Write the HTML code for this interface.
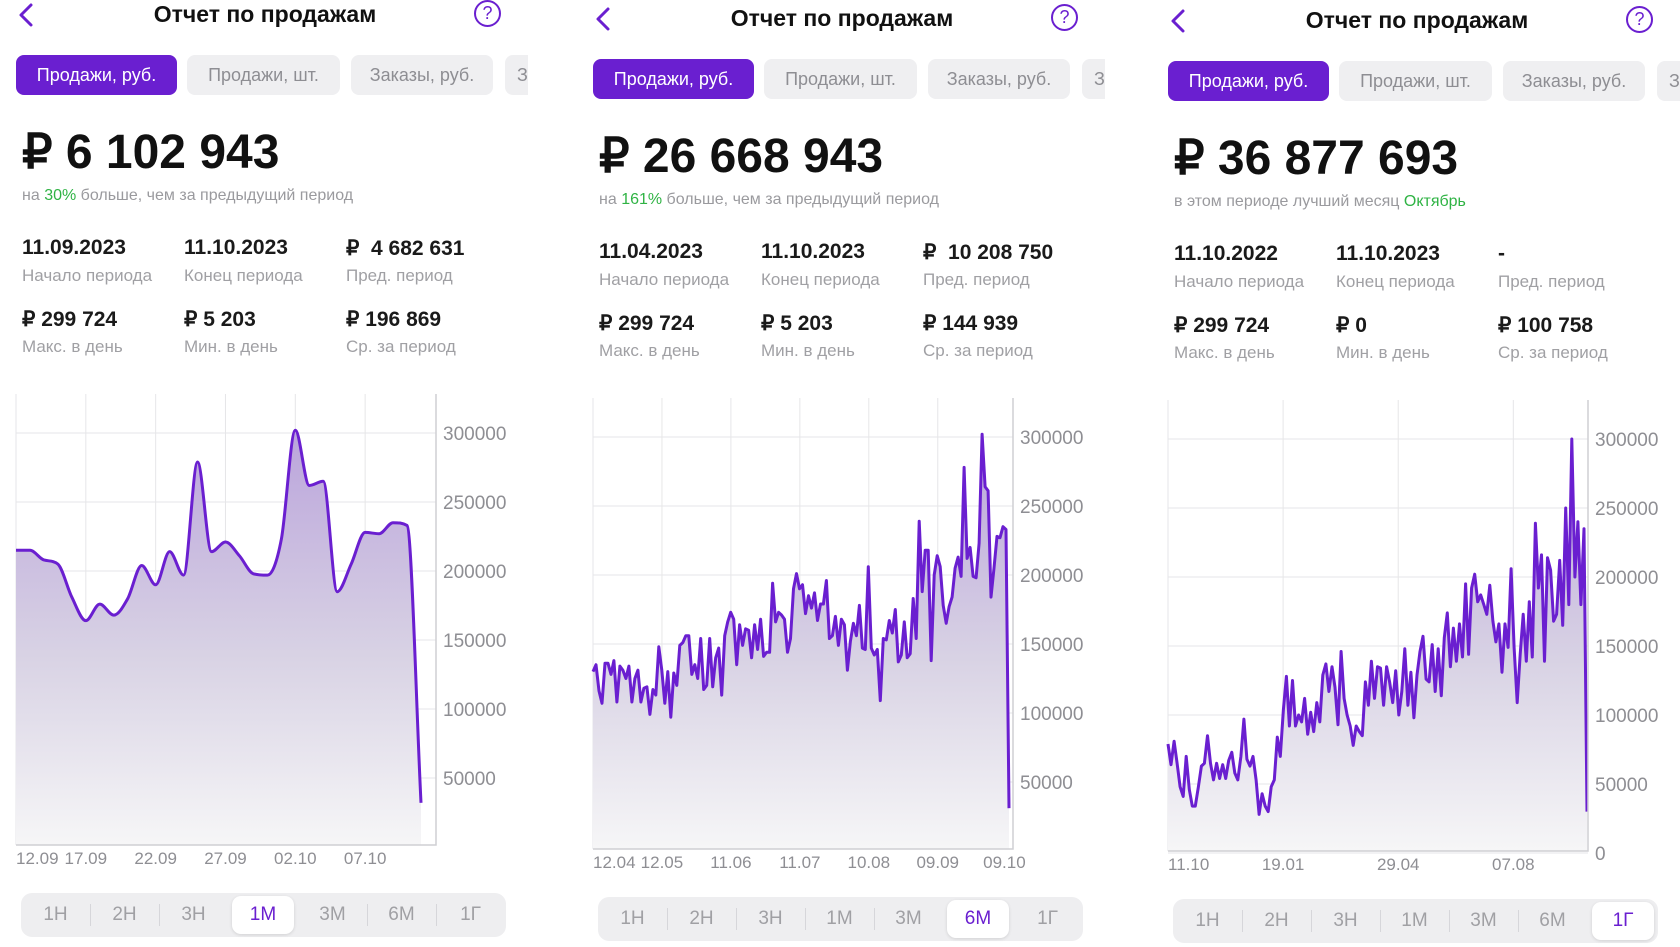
<!DOCTYPE html>
<html><head><meta charset="utf-8">
<style>
*{margin:0;padding:0;box-sizing:border-box}
body{width:1680px;height:941px;background:#fff;overflow:hidden;position:relative;font-family:"Liberation Sans","Noto Sans CJK SC",sans-serif}
.panel{position:absolute;top:0;width:560px;height:941px}
.title{position:absolute;left:110px;width:310px;top:1px;text-align:center;font-size:23px;font-weight:bold;color:#111}
.back{position:absolute;left:14px;top:2px;width:26px;height:26px}
.help{position:absolute;left:474px;top:0px;width:27px;height:27px;border:2.5px solid #6a1fd0;border-radius:50%;color:#6a1fd0;font-size:18px;text-align:center;line-height:22px}
.tabs{position:absolute;left:16px;top:55px;width:512px;height:40px;overflow:hidden}
.tab{position:absolute;top:0;height:40px;border-radius:8px;background:#efeff1;color:#8e8e93;font-size:18px;text-align:center;line-height:40px;white-space:nowrap;overflow:hidden}
.tab.on{background:#6a1fd0;color:#fff}
.big{position:absolute;left:22px;top:124px;font-size:48px;font-weight:bold;color:#111}
.sub{position:absolute;left:22px;top:187px;font-size:16px;color:#9a9a9e}
.sub b{color:#2fb344;font-weight:normal}
.sv{position:absolute;font-size:21px;font-weight:bold;color:#1a1a1a}
.sl{position:absolute;font-size:17px;color:#a0a0a4}
.seg{position:absolute;left:21px;top:893px;width:485px;height:44px;border-radius:11px;background:#eeeef0}
.seg span{position:absolute;top:0;width:69px;height:44px;line-height:44px;text-align:center;font-size:19px;color:#a0a0a4}
.seg span.on{background:#fff;border-radius:9px;top:3px;height:38px;line-height:38px;color:#6a1fd0;box-shadow:0 1px 3px rgba(0,0,0,.12)}
.seg i{position:absolute;top:11px;width:1px;height:22px;background:#d6d6da}
svg.chart{position:absolute;left:0;top:0}
</style></head><body>

<div class="panel" id="p1" style="left:0px;top:0px">
  <svg class="back" viewBox="0 0 26 26"><path d="M17 3 L7 13 L17 23" fill="none" stroke="#6a1fd0" stroke-width="3" stroke-linecap="round" stroke-linejoin="round"/></svg>
  <div class="title">Отчет по продажам</div>
  <div class="help">?</div>
  <div class="tabs">
    <div class="tab on" style="left:0;width:161px">Продажи, руб.</div>
    <div class="tab" style="left:171px;width:153px">Продажи, шт.</div>
    <div class="tab" style="left:335px;width:142px">Заказы, руб.</div>
    <div class="tab" style="left:489px;width:130px;text-align:left;padding-left:12px">Заказы, шт.</div>
  </div>
  <div class="big">₽ 6 102 943</div>
  <div class="sub">на <b>30%</b> больше, чем за предыдущий период</div>
  <div class="sv" style="left:22px;top:236px">11.09.2023</div>
  <div class="sl" style="left:22px;top:266px">Начало периода</div>
  <div class="sv" style="left:184px;top:236px">11.10.2023</div>
  <div class="sl" style="left:184px;top:266px">Конец периода</div>
  <div class="sv" style="left:346px;top:236px">₽&nbsp; 4 682 631</div>
  <div class="sl" style="left:346px;top:266px">Пред. период</div>
  <div class="sv" style="left:22px;top:307px">₽ 299 724</div>
  <div class="sl" style="left:22px;top:337px">Макс. в день</div>
  <div class="sv" style="left:184px;top:307px">₽ 5 203</div>
  <div class="sl" style="left:184px;top:337px">Мин. в день</div>
  <div class="sv" style="left:346px;top:307px">₽ 196 869</div>
  <div class="sl" style="left:346px;top:337px">Ср. за период</div>
  <svg class="chart" id="c1" width="560" height="941"></svg>
  <div class="seg">
    <span style="left:0">1Н</span><i style="left:69px"></i>
    <span style="left:69px">2Н</span><i style="left:138px"></i>
    <span style="left:138px">3Н</span>
    <span class="on" style="left:211px;width:62px">1М</span>
    <span style="left:277px">3М</span><i style="left:346px"></i>
    <span style="left:346px">6М</span><i style="left:415px"></i>
    <span style="left:415px">1Г</span>
  </div>
</div>

<div class="panel" id="p2" style="left:577px;top:4px">
  <svg class="back" viewBox="0 0 26 26"><path d="M17 3 L7 13 L17 23" fill="none" stroke="#6a1fd0" stroke-width="3" stroke-linecap="round" stroke-linejoin="round"/></svg>
  <div class="title">Отчет по продажам</div>
  <div class="help">?</div>
  <div class="tabs">
    <div class="tab on" style="left:0;width:161px">Продажи, руб.</div>
    <div class="tab" style="left:171px;width:153px">Продажи, шт.</div>
    <div class="tab" style="left:335px;width:142px">Заказы, руб.</div>
    <div class="tab" style="left:489px;width:130px;text-align:left;padding-left:12px">Заказы, шт.</div>
  </div>
  <div class="big">₽ 26 668 943</div>
  <div class="sub">на <b>161%</b> больше, чем за предыдущий период</div>
  <div class="sv" style="left:22px;top:236px">11.04.2023</div>
  <div class="sl" style="left:22px;top:266px">Начало периода</div>
  <div class="sv" style="left:184px;top:236px">11.10.2023</div>
  <div class="sl" style="left:184px;top:266px">Конец периода</div>
  <div class="sv" style="left:346px;top:236px">₽&nbsp; 10 208 750</div>
  <div class="sl" style="left:346px;top:266px">Пред. период</div>
  <div class="sv" style="left:22px;top:307px">₽ 299 724</div>
  <div class="sl" style="left:22px;top:337px">Макс. в день</div>
  <div class="sv" style="left:184px;top:307px">₽ 5 203</div>
  <div class="sl" style="left:184px;top:337px">Мин. в день</div>
  <div class="sv" style="left:346px;top:307px">₽ 144 939</div>
  <div class="sl" style="left:346px;top:337px">Ср. за период</div>
  <svg class="chart" id="c2" width="560" height="941"></svg>
  <div class="seg">
    <span style="left:0">1Н</span><i style="left:69px"></i>
    <span style="left:69px">2Н</span><i style="left:138px"></i>
    <span style="left:138px">3Н</span><i style="left:207px"></i>
    <span style="left:207px">1М</span><i style="left:276px"></i>
    <span style="left:276px">3М</span>
    <span class="on" style="left:349px;width:62px">6М</span>
    <span style="left:415px">1Г</span>
  </div>
</div>

<div class="panel" id="p3" style="left:1152px;top:6px">
  <svg class="back" viewBox="0 0 26 26"><path d="M17 3 L7 13 L17 23" fill="none" stroke="#6a1fd0" stroke-width="3" stroke-linecap="round" stroke-linejoin="round"/></svg>
  <div class="title">Отчет по продажам</div>
  <div class="help">?</div>
  <div class="tabs">
    <div class="tab on" style="left:0;width:161px">Продажи, руб.</div>
    <div class="tab" style="left:171px;width:153px">Продажи, шт.</div>
    <div class="tab" style="left:335px;width:142px">Заказы, руб.</div>
    <div class="tab" style="left:489px;width:130px;text-align:left;padding-left:12px">Заказы, шт.</div>
  </div>
  <div class="big">₽ 36 877 693</div>
  <div class="sub">в этом периоде лучший месяц <b>Октябрь</b></div>
  <div class="sv" style="left:22px;top:236px">11.10.2022</div>
  <div class="sl" style="left:22px;top:266px">Начало периода</div>
  <div class="sv" style="left:184px;top:236px">11.10.2023</div>
  <div class="sl" style="left:184px;top:266px">Конец периода</div>
  <div class="sv" style="left:346px;top:236px">-</div>
  <div class="sl" style="left:346px;top:266px">Пред. период</div>
  <div class="sv" style="left:22px;top:307px">₽ 299 724</div>
  <div class="sl" style="left:22px;top:337px">Макс. в день</div>
  <div class="sv" style="left:184px;top:307px">₽ 0</div>
  <div class="sl" style="left:184px;top:337px">Мин. в день</div>
  <div class="sv" style="left:346px;top:307px">₽ 100 758</div>
  <div class="sl" style="left:346px;top:337px">Ср. за период</div>
  <svg class="chart" id="c3" width="560" height="941"></svg>
  <div class="seg">
    <span style="left:0">1Н</span><i style="left:69px"></i>
    <span style="left:69px">2Н</span><i style="left:138px"></i>
    <span style="left:138px">3Н</span><i style="left:207px"></i>
    <span style="left:207px">1М</span><i style="left:276px"></i>
    <span style="left:276px">3М</span><i style="left:345px"></i>
    <span style="left:345px">6М</span>
    <span class="on" style="left:419px;width:62px">1Г</span>
  </div>
</div>

<script>
// ---- data ----
const yTicks = [300000, 250000, 200000, 150000, 100000, 50000];
const yTicks3 = [300000, 250000, 200000, 150000, 100000, 50000, 0];

const sales1m = [215000,215000,208000,205000,181000,164000,176000,168000,180000,204000,190000,214000,197000,279000,214000,221000,211000,198000,197000,223000,302000,262000,265000,185000,205000,228000,227000,235000,233000,32000];
const days1m = 29;
const ticks1mDays = [0,5,10,15,20,25];
const ticks1mLabels = ["12.09","17.09","22.09","27.09","02.10","07.10"];

const sales6m = [130000,135000,116000,107000,136000,136000,128000,138000,108000,134000,131000,125000,134000,108000,125000,131000,108000,118000,119000,99000,117000,113000,148000,131000,107000,130000,97000,129000,120000,149000,151000,156000,156000,128000,135000,125000,154000,117000,120000,154000,119000,140000,147000,113000,156000,166000,173000,168000,135000,164000,149000,161000,160000,140000,164000,146000,168000,141000,144000,144000,194000,166000,173000,171000,168000,144000,154000,190000,201000,190000,193000,172000,185000,176000,187000,167000,179000,179000,196000,154000,156000,170000,149000,168000,164000,131000,152000,165000,156000,178000,147000,146000,206000,147000,142000,146000,109000,154000,153000,167000,158000,175000,137000,142000,166000,140000,143000,183000,154000,239000,188000,218000,218000,138000,200000,214000,206000,178000,165000,177000,184000,205000,213000,199000,278000,212000,220000,199000,198000,223000,302000,264000,261000,184000,205000,228000,227000,235000,233000,31000];
const days6m = 181;
const ticks6mDays = [0,30,60,90,120,150,179];
const ticks6mLabels = ["12.04","12.05","11.06","11.07","10.08","09.09","09.10"];
const grid6mDays = [0,30,60,90,120,150];

const sales1y = [79000,64000,81000,65000,48000,41000,70000,46000,34000,34000,48000,63000,65000,85000,65000,53000,65000,54000,64000,54000,67000,73000,58000,53000,70000,97000,68000,63000,70000,53000,28000,43000,34000,30000,48000,53000,84000,70000,104000,128000,92000,125000,92000,100000,95000,112000,86000,102000,88000,109000,95000,129000,137000,117000,135000,120000,93000,146000,112000,100000,92000,78000,92000,88000,85000,124000,107000,139000,112000,135000,134000,107000,135000,124000,109000,132000,100000,117000,148000,107000,131000,98000,129000,146000,157000,126000,124000,151000,117000,148000,114000,156000,174000,135000,163000,139000,166000,142000,195000,144000,192000,202000,182000,187000,180000,173000,194000,168000,153000,166000,131000,166000,149000,206000,149000,109000,144000,173000,139000,182000,142000,239000,192000,216000,139000,214000,205000,168000,173000,212000,165000,250000,180000,300000,200000,240000,180000,235000,30000];
const days1y = 364;
const ticks1yDays = [0,100,200,300];
const ticks1yLabels = ["11.10","19.01","29.04","07.08"];

// ---- drawing ----
const NS = "http://www.w3.org/2000/svg";
const L = 16, R = 436, TOP = 394, BOT = 845;
function yScale(v){ return 433 + (300000 - v) / 50000 * 69; }
function mk(svg, tag, attrs){
  const e = document.createElementNS(NS, tag);
  for (const k in attrs) e.setAttribute(k, attrs[k]);
  svg.appendChild(e);
  return e;
}
// monotone cubic (no overshoot)
function smoothPath(pts){
  const n = pts.length, d = [], m = [];
  for (let i = 0; i < n - 1; i++) d.push((pts[i+1][1]-pts[i][1])/(pts[i+1][0]-pts[i][0]));
  m.push(d[0]);
  for (let i = 1; i < n - 1; i++) m.push(d[i-1]*d[i] <= 0 ? 0 : (d[i-1]+d[i])/2);
  m.push(d[n-2]);
  for (let i = 0; i < n - 1; i++){
    if (d[i] === 0){ m[i]=0; m[i+1]=0; continue; }
    const a = m[i]/d[i], b = m[i+1]/d[i], s = a*a+b*b;
    if (s > 9){ const t = 3/Math.sqrt(s); m[i]=t*a*d[i]; m[i+1]=t*b*d[i]; }
  }
  let p = "M" + pts[0][0] + " " + pts[0][1];
  for (let i = 0; i < n - 1; i++){
    const h = (pts[i+1][0]-pts[i][0])/3;
    p += " C" + (pts[i][0]+h) + " " + (pts[i][1]+m[i]*h) + " " + (pts[i+1][0]-h) + " " + (pts[i+1][1]-m[i+1]*h) + " " + pts[i+1][0] + " " + pts[i+1][1];
  }
  return p;
}
function draw(id, values, totalDays, xEnd, gridDays, tickDays, tickLabels, yt, smooth){
  const svg = document.getElementById(id);
  const xScale = d => L + d / totalDays * (xEnd - L);
  const defs = mk(svg, "defs", {});
  const g = document.createElementNS(NS, "linearGradient");
  g.setAttribute("id", id + "g");
  g.setAttribute("gradientUnits","userSpaceOnUse"); g.setAttribute("x1","0"); g.setAttribute("x2","0"); g.setAttribute("y1", "420"); g.setAttribute("y2", String(BOT));
  defs.appendChild(g);
  const s1 = document.createElementNS(NS,"stop"); s1.setAttribute("offset","0"); s1.setAttribute("stop-color","#b9a2db"); g.appendChild(s1);
  const s2 = document.createElementNS(NS,"stop"); s2.setAttribute("offset","0.55"); s2.setAttribute("stop-color","#d8d2e4"); g.appendChild(s2);
  const s3 = document.createElementNS(NS,"stop"); s3.setAttribute("offset","1"); s3.setAttribute("stop-color","#f6f6f7"); g.appendChild(s3);
  yt.forEach(v => {
    const ln = mk(svg, "line", {x1:L, x2:R, y1:yScale(v), y2:yScale(v), stroke:"#e6e6e8", "stroke-width":1});
    
    
    const t = mk(svg, "text", {x:R+7, y:yScale(v)+7, "font-size":19, fill:"#8e8e93", "font-family":"Liberation Sans, sans-serif"});
    t.textContent = v;
    
    
  });
  gridDays.forEach(d => {
    const ln = mk(svg, "line", {x1:xScale(d), x2:xScale(d), y1:TOP, y2:BOT, stroke:"#e6e6e8", "stroke-width":1});
    
    
  });
  tickDays.forEach((d, i) => {
    const t = mk(svg, "text", {x: xScale(d), y: BOT + 19, "font-size":17, fill:"#8e8e93", "text-anchor": i === 0 ? "start" : "middle", "font-family":"Liberation Sans, sans-serif"});
    t.textContent = tickLabels[i];
    
    
  });
  const n = values.length;
  const pts = values.map((v, i) => [xScale(i / (n - 1) * totalDays), yScale(v)]);
  const lineD = smooth ? smoothPath(pts) : "M" + pts.map(p => p[0].toFixed(1) + " " + p[1].toFixed(1)).join(" L");
  const area = mk(svg, "path", {d: lineD + " L" + pts[n-1][0] + " " + BOT + " L" + pts[0][0] + " " + BOT + " Z", fill: "url(#" + id + "g)"});
  
  
  const line = mk(svg, "path", {d: lineD, fill:"none", stroke:"#6a1fd0", "stroke-width":3, "stroke-linejoin":"round"});
  
  
  const ax = mk(svg, "path", {d: "M" + R + " " + TOP + " L" + R + " " + BOT + " L" + L + " " + BOT, fill:"none", stroke:"#cfcfd3", "stroke-width":1.5});
  
  
}
draw("c1", sales1m, days1m, 421, ticks1mDays, ticks1mDays, ticks1mLabels, yTicks, true);
draw("c2", sales6m, days6m, 432, grid6mDays, ticks6mDays, ticks6mLabels, yTicks, false);
draw("c3", sales1y, days1y, 435, ticks1yDays, ticks1yDays, ticks1yLabels, yTicks3, false);
</script>
</body></html>
